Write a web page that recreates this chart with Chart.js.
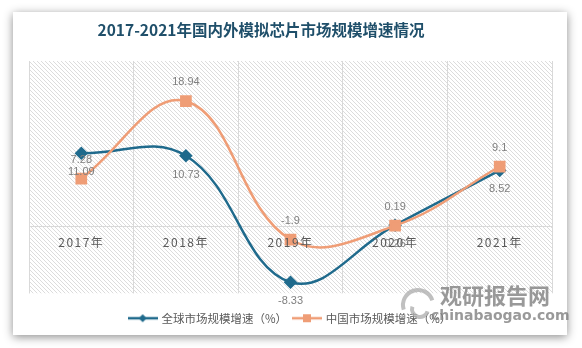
<!DOCTYPE html>
<html>
<head>
<meta charset="utf-8">
<script src="https://cdn.jsdelivr.net/npm/chart.js@4"></script>
<style>
    html, body { margin: 0; padding: 0; background: #fff; }
    #wrap { position: relative; width: 582px; height: 348px; overflow: hidden; }
    #card {
        position: absolute; left: 13px; top: 12px; width: 554px; height: 323px;
        background: #fff; box-shadow: 0 2px 9px rgba(0, 0, 0, 0.45);
    }
    #grafico { position: absolute; left: 0; top: 0; }
</style>
</head>
<body>
<div id="wrap">
    <div id="card"></div>
    <canvas id="grafico" width="582" height="348"></canvas>
</div>
<script>
const anos = ['2017年', '2018年', '2019年', '2020年', '2021年'];
const crescimentoGlobal = [11.09, 10.73, -8.33, 0.26, 8.52];
const crescimentoChina = [7.28, 18.94, -1.9, 0.19, 9.1];
const nomesSeries = ['全球市场规模增速（%）', '中国市场规模增速（%）'];
const tituloGrafico = '2017-2021年国内外模拟芯片市场规模增速情况';

const corAzul = '#1f6a8c';
const corLaranja = '#ef9d76';
const fonteCJK = '"Noto Sans CJK SC", "Noto Sans", sans-serif';

// icone da legenda: linha com o marcador no meio
function iconeLegenda(cor, forma) {
    const c = document.createElement('canvas');
    c.width = 30;
    c.height = 10;
    const g = c.getContext('2d');
    g.strokeStyle = cor;
    g.lineWidth = 2.5;
    g.beginPath();
    g.moveTo(0, 5);
    g.lineTo(30, 5);
    g.stroke();
    g.fillStyle = cor;
    if (forma === 'losango') {
        g.beginPath();
        g.moveTo(15, 1); g.lineTo(19, 5); g.lineTo(15, 9); g.lineTo(11, 5);
        g.closePath();
        g.fill();
    } else {
        g.fillRect(11, 1, 8, 8);
    }
    return c;
}
const icones = [iconeLegenda(corAzul, 'losango'), iconeLegenda(corLaranja, 'quadrado')];

// fundo listrado na area do grafico
function padraoListrado(ctx) {
    const c = document.createElement('canvas');
    c.width = 4;
    c.height = 4;
    const g = c.getContext('2d');
    g.fillStyle = '#fff';
    g.fillRect(0, 0, 4, 4);
    g.fillStyle = '#dcdcdc';
    for (let i = 0; i < 4; i++) g.fillRect(i, i, 1, 1);
    return ctx.createPattern(c, 'repeat');
}

const fundoArea = {
    id: 'fundoArea',
    beforeDraw(chart) {
        const { ctx, chartArea: a } = chart;
        ctx.save();
        ctx.fillStyle = padraoListrado(ctx);
        ctx.fillRect(a.left, a.top, a.right - a.left, a.bottom - a.top);
        // titulo, um pouco deslocado para a esquerda
        ctx.fillStyle = '#1f4f6a';
        ctx.font = 'bold 15.5px ' + fonteCJK;
        ctx.textAlign = 'center';
        ctx.textBaseline = 'middle';
        ctx.fillText(tituloGrafico, 261, 30);
        ctx.restore();
    }
};

// rotulos de valor: azul abaixo do ponto, laranja acima
const deslocRotulo = [19, -19];
const rotulosValor = {
    id: 'rotulosValor',
    afterDatasetsDraw(chart) {
        const ctx = chart.ctx;
        ctx.save();
        ctx.font = '11px "Liberation Sans", sans-serif';
        ctx.fillStyle = '#7f7f7f';
        ctx.textAlign = 'center';
        ctx.textBaseline = 'middle';
        chart.data.datasets.forEach((ds, i) => {
            chart.getDatasetMeta(i).data.forEach((pt, j) => {
                ctx.fillText(String(ds.data[j]), pt.x, pt.y + deslocRotulo[i]);
            });
        });
        ctx.restore();
        // os rotulos do eixo x vem depois (z = 1), com letras espacadas
        ctx.letterSpacing = '1.5px';
    },
    afterDraw(chart) {
        chart.ctx.letterSpacing = '0px';
    }
};

const marcaDagua = {
    id: 'marcaDagua',
    afterDraw(chart) {
        const ctx = chart.ctx;
        ctx.save();
        ctx.globalAlpha = 0.8;
        ctx.strokeStyle = '#b0b0b0';
        ctx.lineWidth = 4;
        ctx.beginPath();
        ctx.arc(418, 305, 15, Math.PI * 0.9, Math.PI * 1.9);
        ctx.stroke();
        ctx.beginPath();
        ctx.arc(420, 309, 8, Math.PI * 0.1, Math.PI * 1.1);
        ctx.stroke();
        ctx.fillStyle = '#808080';
        ctx.font = 'bold 22px ' + fonteCJK;
        ctx.textBaseline = 'middle';
        ctx.fillText('观研报告网', 440, 296);
        ctx.font = 'bold 14px "DejaVu Sans", sans-serif';
        ctx.fillText('chinabaogao.com', 431, 316);
        ctx.restore();
    }
};

new Chart(document.getElementById('grafico'), {
    type: 'line',
    data: {
        labels: anos,
        datasets: [
            {
                label: nomesSeries[0],
                data: crescimentoGlobal,
                borderColor: corAzul,
                backgroundColor: corAzul,
                borderWidth: 2.5,
                pointStyle: 'rectRot',
                pointRadius: 5,
                tension: 0.4,
                order: 1
            },
            {
                label: nomesSeries[1],
                data: crescimentoChina,
                borderColor: corLaranja,
                backgroundColor: corLaranja,
                borderWidth: 2.5,
                pointStyle: 'rect',
                pointRadius: 6.5,
                tension: 0.4,
                order: 0
            }
        ]
    },
    options: {
        responsive: false,
        animation: false,
        layout: { padding: { left: 29, right: 30, top: 61, bottom: 14 } },
        scales: {
            x: {
                type: 'category',
                offset: true,
                position: { y: 0 },
                grid: { offset: true, color: '#d9d9d9', drawTicks: false },
                border: { color: '#d9d9d9' },
                ticks: { padding: 8, z: 1, color: '#595959', font: { size: 12, family: fonteCJK } }
            },
            y: { display: false, min: -10, max: 25 }
        },
        plugins: {
            title: { display: false },
            legend: {
                position: 'bottom',
                title: { display: true, text: '', font: { size: 1 }, padding: { top: 11, bottom: 0 } },
                labels: {
                    usePointStyle: true,
                    pointStyleWidth: 26,
                    padding: 7,
                    color: '#595959',
                    font: { size: 11.5, family: fonteCJK },
                    sort: (a, b) => a.datasetIndex - b.datasetIndex,
                    generateLabels(chart) {
                        const itens = Chart.defaults.plugins.legend.labels.generateLabels(chart);
                        itens.forEach(it => { it.pointStyle = icones[it.datasetIndex]; });
                        return itens;
                    }
                }
            },
            tooltip: { enabled: false }
        }
    },
    plugins: [fundoArea, rotulosValor, marcaDagua]
});
</script>
</body>
</html>
